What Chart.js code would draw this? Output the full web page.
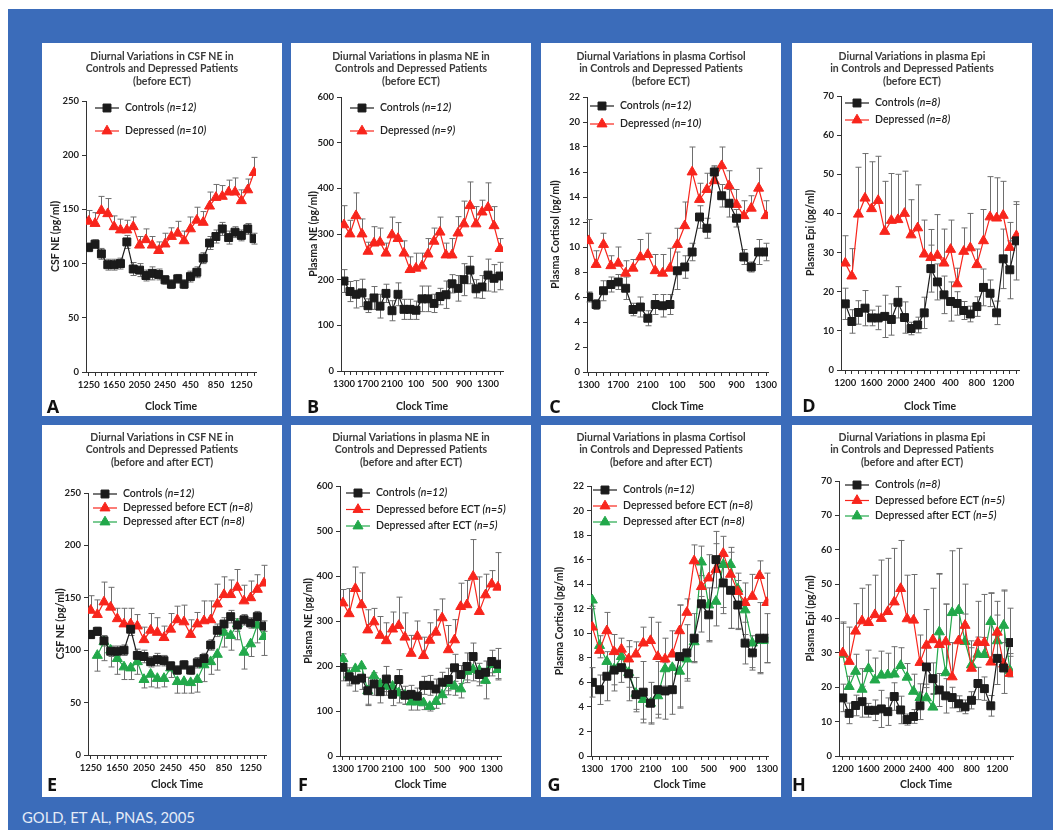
<!DOCTYPE html>
<html lang="en">
<head>
<meta charset="UTF-8">
<title>Diurnal Variations - Gold et al, PNAS 2005</title>
<script src="https://cdn.jsdelivr.net/npm/chart.js"></script>
<style>
    html, body { margin: 0; padding: 0; background: #fff; }
    body { width: 1053px; height: 830px; position: relative; overflow: hidden; font-family: Lato, 'Open Sans', sans-serif; }
    .frame { position: absolute; left: 8px; top: 9px; right: 0; bottom: 0; background: #3b6cba; }
    .panel { position: absolute; background: #fff; width: 240px; }
    .panel canvas { position: absolute; left: 0; top: 0; }
    .ttl { position: absolute; left: 0; right: 0; text-align: center; font-weight: 700; font-size: 10.5px; line-height: 12.3px; color: #3a3a3a; white-space: nowrap; }
    .letter { position: absolute; transform: translate(-50%, -50%); font: bold 18px 'Open Sans', sans-serif; color: #111; }
    .credit { position: absolute; left: 22px; top: 808px; font-size: 14.8px; line-height: 18px; color: #e4ebf7; }
</style>
</head>
<body>
<div class="frame"></div>
<div class="credit">GOLD, ET AL, PNAS, 2005</div>

<script>
// ---- tick labels (clock time) ----
const csfTimes = ['1250','1350','1450','1550','1650','1750','1850','1950','2050','2150','2250','2350','2450',
    '150','250','350','450','550','650','750','850','950','1050','1150','1250','1350','1450'];
const plasmaTimesB = ['1300','1400','1500','1600','1700','1800','1900','2000','2100','2200','2300','2400',
    '100','200','300','400','500','600','700','800','900','1000','1100','1200','1300','1400','1500'];
const plasmaTimesF = ['1300','1400','1500','1600','1700','1800','1900','2000','2100','2200','2300','2400',
    '100','200','300','400','500','600','700','800','900','1000','1100','1200','1300','1400'];
const cortTimes = ['1300','1400','1500','1600','1700','1800','1900','2000','2100','2200','2300','2400',
    '100','200','300','400','500','600','700','800','900','1000','1100','1200','1300'];
const epiTimes = ['1200','1300','1400','1500','1600','1700','1800','1900','2000','2100','2200','2300','2400',
    '100','200','300','400','500','600','700','800','900','1000','1100','1200','1300','1400'];

// ---- CSF NE (A, E) ----
const csfControls    = [115,118,109,99,99,100,120,95,94,89,91,90,85,81,86,81,88,92,105,119,125,132,124,129,126,132,123];
const csfControlsErr = [4,4,5,5,5,5,6,6,6,5,6,5,4,4,4,4,5,5,5,6,6,6,6,5,5,5,5];
const csfDepressed    = [139,137,149,146,134,131,131,134,117,122,117,112,118,125,128,121,132,140,138,153,161,162,166,166,158,168,184];
const csfDepressedErr = [10,10,13,14,10,10,9,9,8,10,8,8,10,8,11,9,11,12,10,13,12,10,11,13,10,10,14];
const csfBefore    = [138,134,146,141,130,125,125,123,110,119,117,112,120,129,127,115,125,128,129,144,153,153,160,147,150,158,164];
const csfBeforeErr = [14,14,19,19,10,15,15,11,12,16,14,11,15,13,16,14,11,19,18,19,17,14,17,15,16,14,17];
const csfAfter     = [null,95,108,100,92,84,83,89,72,77,73,73,83,70,70,69,72,86,89,96,117,114,125,98,106,124,113];
const csfAfterErr  = [0,15,18,16,15,12,11,12,8,12,9,8,9,11,11,10,12,16,12,15,14,14,15,16,12,17,18];

// ---- plasma NE (B, F) ----
const neControlsB    = [197,174,168,171,143,160,142,170,132,168,135,135,133,158,158,148,163,167,191,181,200,221,180,184,210,203,208];
const neControlsBErr = [25,22,30,30,15,25,26,20,22,25,22,22,20,28,28,20,18,30,20,28,35,30,20,25,35,30,30];
const neDepressed    = [320,300,340,300,262,280,282,258,298,290,258,222,225,230,256,284,304,254,254,302,322,362,322,348,358,318,268];
const neDepressedErr = [42,30,50,33,20,36,31,22,39,35,27,28,33,28,34,29,33,26,36,36,50,52,38,26,54,42,22];
const neControlsF    = [197,176,169,173,145,160,143,171,137,170,135,137,133,157,157,149,164,170,196,181,199,221,181,186,210,204];
const neControlsFErr = [30,20,25,25,30,25,25,28,25,22,20,20,18,20,22,22,22,25,30,20,30,30,25,25,25,35];
const neBefore    = [340,316,372,336,280,298,268,256,282,290,264,228,266,223,257,275,307,236,258,332,336,399,321,358,382,375];
const neBeforeErr = [30,56,48,71,45,30,42,40,38,63,54,40,34,41,39,50,42,54,45,52,54,82,77,46,30,77];
const neAfter     = [216,180,194,200,145,178,160,155,155,140,135,120,120,118,110,121,136,161,155,149,188,192,190,168,203,192];
const neAfterErr  = [15,20,20,20,33,20,22,20,20,22,20,18,18,15,10,15,20,25,20,20,25,25,25,41,25,20];

// ---- plasma cortisol (C, G) ----
const cortControls     = [6.0,5.4,6.5,7.0,7.2,6.7,5.0,5.2,4.3,5.4,5.3,5.4,8.1,8.4,9.6,12.4,11.5,16.0,14.1,13.5,12.3,9.2,8.4,9.6,9.6];
const cortControlsErr  = [0.4,0.4,0.8,0.6,0.6,0.9,0.5,0.8,0.6,0.8,0.9,0.8,1.5,0.9,0.7,0.9,0.8,0.5,0.9,1.1,0.7,0.6,0.4,1.0,0.7];
const cortControlsErrG = [1.2,1.2,2.0,1.7,1.2,2.2,1.4,2.5,1.7,2.3,2.3,2.0,4.2,2.3,2.0,2.3,2.2,2.3,2.5,3.1,2.0,1.7,1.4,2.9,2.0];
const cortDepressed    = [10.5,8.6,10.2,8.5,8.7,7.9,8.3,9.2,9.4,8.1,7.9,8.3,10.2,11.7,16.0,13.8,14.6,15.3,16.5,14.9,13.4,12.5,13.1,14.7,12.5];
const cortDepressedErr = [1.7,1.1,0.9,0.8,1.3,1.0,0.7,1.4,1.7,1.3,1.5,1.6,1.3,1.9,2.0,1.3,1.3,1.1,1.5,1.2,1.2,1.2,1.0,1.6,1.2];
const cortBefore    = [10.5,8.6,10.2,8.5,8.7,7.9,8.3,9.2,9.4,8.1,7.9,8.3,10.2,11.7,15.9,13.8,14.5,15.2,16.5,14.8,13.4,12.5,13.0,14.7,12.5];
const cortBeforeErr = [1.5,1.2,1.5,1.4,0.9,1.5,1.0,1.3,1.9,2.8,1.7,1.9,2.1,1.1,1.3,3.3,1.9,2.1,1.4,2.2,1.5,1.6,1.8,1.2,2.4];
const cortAfter     = [12.7,9.0,7.7,7.1,8.1,6.8,5.1,4.6,4.3,4.9,7.1,7.2,6.9,7.9,9.3,15.8,12.3,12.6,15.6,15.6,13.6,11.9,9.2,9.4,9.4];
const cortAfterErr  = [0.5,1.0,1.2,1.3,1.0,1.2,1.3,1.6,1.6,1.5,1.4,2.0,2.9,1.6,1.6,2.8,2.9,2.0,3.5,5.2,3.2,2.0,2.0,2.6,1.8];

// ---- plasma Epi (D, H) ----
const epiControls    = [16.9,12.4,14.7,15.8,13.3,13.3,13.7,12.9,17.3,13.4,10.6,11.5,14.6,25.9,22.5,19.2,17.5,17.0,15.2,14.3,16.2,21.1,19.6,14.6,28.4,25.6,33.0];
const epiControlsErr = [4,3,3,4.5,2,3,5.4,4,4,4,1.6,2,4,6,4.6,4.8,5,3,2.3,2,2.5,4.7,3.4,3,7.6,7.4,10];
const epiDepressed    = [27.3,24.0,39.8,43.9,41.2,43.3,35.4,38.2,38.4,40.0,34.5,36.3,29.6,28.7,29.3,27.3,30.8,22.0,30.3,31.2,26.9,33.0,39.1,38.8,39.5,31.3,34.3];
const epiDepressedErr = [7,7,12,11.4,12,11.3,12.8,12,11.6,10.8,9,11,8.7,7.2,10.4,8.7,7.5,4,6,8.8,4,8,10.3,10.3,8.7,6.4,8];
const epiBefore    = [30.0,27.5,36.3,39.3,38.8,41.1,40.0,42.0,44.8,48.7,39.9,39.5,27.2,32.2,33.8,32.4,33.2,23.0,33.5,38.0,25.5,33.0,33.0,27.3,36.0,26.7,24.0];
const epiBeforeErr = [9,10,8,9.5,11,11.5,17,15.5,15.6,14,12.7,13.3,8,10.4,15,20.5,11,10,8,12,8,12,14,20,9,21.6,5];
const epiAfter     = [29.6,20.2,24.6,19.4,25.4,22.1,23.5,23.6,23.8,26.3,22.9,18.8,17.0,16.9,14.2,36.1,24.2,41.7,42.4,33.3,26.5,29.6,29.5,39.1,33.5,38.0,24.8];
const epiAfterErr  = [9,3,5,6,5.4,6.4,7,6.3,8,5.2,4,5,4,4,4,17,20,18,18,8,5,5,5,8.4,7.5,10,5];

const BLACK = '#1b1b1b', RED = '#f8251c', GREEN = '#22a84a';
const TICK_FONT = { family: 'Lato', size: 9.5, weight: 'bold' };
const AXIS_FONT = { family: 'Lato', size: 10.5, weight: 'bold' };

const titleBefore = ['(before ECT)'];
const titleAfter = ['(before and after ECT)'];

function ctrl(n, data, err) { return { name: 'Controls', n, data, err, dir: 'both', color: BLACK, style: 'rect', r: 5.6 }; }
function red(name, n, data, err) { return { name, n, data, err, dir: 'up', color: RED, style: 'triangle', r: 5.8 }; }
function green(name, n, data, err, dir) { return { name, n, data, err, dir, color: GREEN, style: 'triangle', r: 5.8 }; }

const panels = [
    { letter: 'A', left: 42, top: 43, h: 373, title: ['Diurnal Variations in CSF NE in', 'Controls and Depressed Patients', ...titleBefore],
      yTitle: 'CSF NE (pg/ml)', yMax: 250, yStep: 50, labels: csfTimes, xMin: -0.42, xMax: 26.3,
      area: { l: 44, t: 58, r: 214, b: 329 }, xBox: 41, yTitleX: 14, letterPos: [11, 363], legend: { dx: 9, dy: 7, gap: 23 },
      series: [ctrl('(n=12)', csfControls, csfControlsErr), red('Depressed', '(n=10)', csfDepressed, csfDepressedErr)] },
    { letter: 'B', left: 291, top: 43, h: 373, title: ['Diurnal Variations in plasma NE in', 'Controls and Depressed Patients', ...titleBefore],
      yTitle: 'Plasma NE (pg/ml)', yMax: 600, yStep: 100, labels: plasmaTimesB, xMin: -0.5, xMax: 26.5,
      area: { l: 50, t: 54, r: 212, b: 328 }, xBox: 42, yTitleX: 23, letterPos: [22, 363], legend: { dx: 9, dy: 11, gap: 23 },
      series: [ctrl('(n=12)', neControlsB, neControlsBErr), red('Depressed', '(n=9)', neDepressed, neDepressedErr)] },
    { letter: 'C', left: 541, top: 43, h: 373, title: ['Diurnal Variations in plasma Cortisol', 'in Controls and Depressed Patients', ...titleBefore],
      yTitle: 'Plasma Cortisol (pg/ml)', yMax: 22, yStep: 2, labels: cortTimes, xMin: -0.23, xMax: 24.27,
      area: { l: 46, t: 54, r: 227, b: 329 }, xBox: 41, yTitleX: 15, letterPos: [14, 363], legend: { dx: 3, dy: 9, gap: 18 },
      series: [ctrl('(n=12)', cortControls, cortControlsErr), red('Depressed', '(n=10)', cortDepressed, cortDepressedErr)] },
    { letter: 'D', left: 792, top: 43, h: 373, title: ['Diurnal Variations in plasma Epi', 'in Controls and Depressed Patients', ...titleBefore],
      yTitle: 'Plasma Epi (pg/ml)', yMax: 70, yStep: 10, labels: epiTimes, xMin: -0.65, xMax: 26.4,
      area: { l: 49, t: 53, r: 227, b: 327 }, xBox: 43, yTitleX: 19, letterPos: [17, 362], legend: { dx: 4, dy: 7, gap: 17 },
      series: [ctrl('(n=8)', epiControls, epiControlsErr), red('Depressed', '(n=8)', epiDepressed, epiDepressedErr)] },
    { letter: 'E', left: 42, top: 425, h: 372, title: ['Diurnal Variations in CSF NE in', 'Controls and Depressed Patients', ...titleAfter],
      yTitle: 'CSF NE (pg/ml)', yMax: 250, yStep: 50, labels: csfTimes, xMin: -0.4, xMax: 26.3,
      area: { l: 46, t: 68, r: 224, b: 330 }, xBox: 36, yTitleX: 19, letterPos: [10, 359], legend: { dx: 5, dy: 1, gap: 14 },
      series: [ctrl('(n=12)', csfControls, csfControlsErr), red('Depressed before ECT', '(n=8)', csfBefore, csfBeforeErr),
               green('Depressed after ECT', '(n=8)', csfAfter, csfAfterErr, 'down')] },
    { letter: 'F', left: 291, top: 425, h: 372, title: ['Diurnal Variations in plasma NE in', 'Controls and Depressed Patients', ...titleAfter],
      yTitle: 'Plasma NE (pg/ml)', yMax: 600, yStep: 100, labels: plasmaTimesF, xMin: -0.48, xMax: 25.5,
      area: { l: 49, t: 61, r: 210, b: 331 }, xBox: 35, yTitleX: 18, letterPos: [12, 359], legend: { dx: 6, dy: 7, gap: 16.5 },
      series: [ctrl('(n=12)', neControlsF, neControlsFErr), red('Depressed before ECT', '(n=5)', neBefore, neBeforeErr),
               green('Depressed after ECT', '(n=5)', neAfter, neAfterErr, 'down')] },
    { letter: 'G', left: 541, top: 425, h: 372, title: ['Diurnal Variations in plasma Cortisol', 'in Controls and Depressed Patients', ...titleAfter],
      yTitle: 'Plasma Cortisol (pg/ml)', yMax: 22, yStep: 2, labels: cortTimes, xMin: -0.18, xMax: 24.2,
      area: { l: 50, t: 61, r: 230, b: 331 }, xBox: 35, yTitleX: 19, letterPos: [13, 359], legend: { dx: 2, dy: 4, gap: 16 },
      series: [ctrl('(n=12)', cortControls, cortControlsErrG), red('Depressed before ECT', '(n=8)', cortBefore, cortBeforeErr),
               green('Depressed after ECT', '(n=8)', cortAfter, cortAfterErr, 'down')] },
    { letter: 'H', left: 792, top: 425, h: 372, title: ['Diurnal Variations in plasma Epi', 'in Controls and Depressed Patients', ...titleAfter],
      yTitle: 'Plasma Epi (pg/ml)', yMax: 80, yStep: 10, labels: epiTimes, xMin: -0.58, xMax: 26.45,
      // the original figure labels its top tick "70" twice
      yTickText: v => (v === 80 ? '70' : v),
      area: { l: 47, t: 56, r: 221, b: 331 }, xBox: 35, yTitleX: 19, letterPos: [7, 359], legend: { dx: 6, dy: 4, gap: 15.5 },
      series: [ctrl('(n=8)', epiControls, epiControlsErr), red('Depressed before ECT', '(n=5)', epiBefore, epiBeforeErr),
               green('Depressed after ECT', '(n=5)', epiAfter, epiAfterErr, 'up')] }
];

// error bars drawn under the markers
const errorBars = {
    id: 'errorBars',
    beforeDatasetsDraw(chart) {
        const { ctx, scales: { y } } = chart;
        ctx.save();
        ctx.strokeStyle = '#6e6e6e';
        ctx.lineWidth = 1;
        chart.data.datasets.forEach((ds, di) => {
            const meta = chart.getDatasetMeta(di);
            meta.data.forEach((pt, i) => {
                const v = ds.data[i].y, e = ds.errors[i];
                if (v == null || !e) return;
                const hi = ds.errDir === 'down' ? v : v + e;
                const lo = ds.errDir === 'up' ? v : v - e;
                const x = Math.round(pt.x) + 0.5;
                const y1 = y.getPixelForValue(hi), y2 = y.getPixelForValue(lo);
                ctx.beginPath();
                ctx.moveTo(x, y1);
                ctx.lineTo(x, y2);
                if (ds.errDir !== 'down') { ctx.moveTo(x - 3, y1); ctx.lineTo(x + 3, y1); }
                if (ds.errDir !== 'up') { ctx.moveTo(x - 3, y2); ctx.lineTo(x + 3, y2); }
                ctx.stroke();
            });
        });
        ctx.restore();
    }
};

function marker(ctx, style, r, x, y) {
    if (Chart.helpers && Chart.helpers.drawPoint) {
        Chart.helpers.drawPoint(ctx, { pointStyle: style, radius: r, rotation: 0, borderWidth: 1 }, x, y);
        return;
    }
    ctx.beginPath();
    if (style === 'rect') {
        const s = r * Math.SQRT1_2;
        ctx.rect(x - s, y - s, 2 * s, 2 * s);
    } else {
        ctx.moveTo(x, y - r);
        ctx.lineTo(x + r * 0.866, y + r / 2);
        ctx.lineTo(x - r * 0.866, y + r / 2);
        ctx.closePath();
    }
    ctx.fill();
    ctx.stroke();
}

// legend sitting inside the plot area, top left
const insideLegend = {
    id: 'insideLegend',
    afterDraw(chart, args, opts) {
        const { ctx, chartArea } = chart;
        chart.data.datasets.forEach((ds, i) => {
            const y = chartArea.top + opts.dy + i * opts.gap;
            const x0 = chartArea.left + opts.dx;
            ctx.save();
            ctx.strokeStyle = ds.borderColor;
            ctx.fillStyle = ds.backgroundColor;
            ctx.lineWidth = 1.2;
            ctx.beginPath();
            ctx.moveTo(x0, y);
            ctx.lineTo(x0 + 24, y);
            ctx.stroke();
            ctx.lineWidth = 1;
            marker(ctx, ds.pointStyle, ds.pointRadius, x0 + 12, y);
            ctx.fillStyle = '#222';
            ctx.textBaseline = 'middle';
            ctx.font = '600 10.5px Lato';
            const main = ds.label + ' ';
            ctx.fillText(main, x0 + 30, y);
            const w = ctx.measureText(main).width;
            ctx.font = 'italic 600 10.5px Lato';
            ctx.fillText(ds.nText, x0 + 30 + w, y);
            ctx.restore();
        });
    }
};

panels.forEach(p => {
    const div = document.createElement('div');
    div.className = 'panel';
    div.style.left = p.left + 'px';
    div.style.top = p.top + 'px';
    div.style.height = p.h + 'px';
    document.body.appendChild(div);

    const canvas = document.createElement('canvas');
    canvas.width = 240;
    canvas.height = p.h;
    div.appendChild(canvas);

    const ttl = document.createElement('div');
    ttl.className = 'ttl';
    ttl.style.top = (p.top < 100 ? 7 : 6) + 'px';
    ttl.innerHTML = p.title.join('<br>');
    div.appendChild(ttl);

    const let_ = document.createElement('div');
    let_.className = 'letter';
    let_.textContent = p.letter;
    let_.style.left = p.letterPos[0] + 'px';
    let_.style.top = p.letterPos[1] + 'px';
    div.appendChild(let_);

    const a = p.area;
    new Chart(canvas, {
        type: 'line',
        data: {
            datasets: p.series.map(s => ({
                label: s.name,
                nText: s.n,
                data: s.data.map((v, i) => ({ x: i, y: v })),
                errors: s.err,
                errDir: s.dir,
                borderColor: s.color,
                backgroundColor: s.color,
                borderWidth: 1.2,
                pointStyle: s.style,
                pointRadius: s.r,
                pointBorderWidth: 1,
                tension: 0,
                spanGaps: false
            }))
        },
        options: {
            responsive: false,
            animation: false,
            events: [],
            layout: { padding: { left: 0, top: a.t, right: 240 - a.r, bottom: p.h - a.b - p.xBox } },
            plugins: {
                legend: { display: false },
                tooltip: { enabled: false },
                insideLegend: p.legend
            },
            scales: {
                x: {
                    type: 'linear',
                    min: p.xMin,
                    max: p.xMax,
                    afterBuildTicks: s => { s.ticks = p.labels.map((_, i) => ({ value: i })); },
                    afterFit: s => { s.height = p.xBox; },
                    border: { color: '#333', width: 1 },
                    grid: { display: true, drawOnChartArea: false, tickLength: 4, color: '#333' },
                    ticks: {
                        autoSkip: false, maxRotation: 0, minRotation: 0, padding: 3,
                        color: '#222', font: TICK_FONT,
                        callback: v => (Number.isInteger(v) && v % 4 === 0 ? p.labels[v] : '')
                    },
                    title: { display: true, text: 'Clock Time', color: '#222', font: AXIS_FONT, padding: 0 }
                },
                y: {
                    min: 0,
                    max: p.yMax,
                    afterFit: s => { s.width = a.l; },
                    border: { color: '#333', width: 1 },
                    grid: { display: true, drawOnChartArea: false, tickLength: 4, color: '#333' },
                    ticks: { stepSize: p.yStep, padding: 3, color: '#222', font: TICK_FONT, callback: p.yTickText || (v => v) },
                    title: { display: true, text: p.yTitle, color: '#222', font: AXIS_FONT, padding: { top: p.yTitleX - 6.3, bottom: 0 } }
                }
            }
        },
        plugins: [errorBars, insideLegend]
    });
});
</script>
</body>
</html>
